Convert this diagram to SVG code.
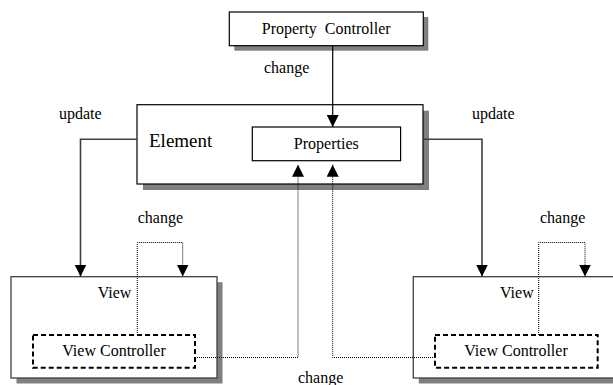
<svg xmlns="http://www.w3.org/2000/svg" width="613" height="385" viewBox="0 0 613 385">
<style>
text{font-family:"Liberation Serif","Times New Roman",serif;font-size:16px;fill:#000}
.box{fill:#fff;stroke:#000;stroke-width:1.2}
.view{fill:#fff;stroke:#404040;stroke-width:1.3}
.shadow{fill:#808080}
.dash{fill:#fff;stroke:#000;stroke-width:2;stroke-dasharray:5,3}
.solid{fill:none;stroke:#404040;stroke-width:1.6}
.top{fill:none;stroke:#000;stroke-width:1.2}
.dot{fill:none;stroke:#000;stroke-width:1;stroke-dasharray:1,1}
</style>
<defs>
<marker id="ah" viewBox="0 0 12 12" refX="12" refY="6" markerWidth="12" markerHeight="12" markerUnits="userSpaceOnUse" orient="auto">
<path d="M0,0 L12,6 L0,12 z" fill="#000"/>
</marker>
</defs>
<g id="property-controller">
<rect class="shadow" x="234.3" y="17" width="194" height="33.7"/>
<rect class="box" x="229.3" y="12" width="194" height="33.7"/>
<text x="326.2" y="34" text-anchor="middle" xml:space="preserve">Property  Controller</text>
</g>
<g id="element">
<rect class="shadow" x="143" y="110.7" width="286" height="79.3"/>
<rect class="box" x="137" y="104.7" width="286" height="79.3"/>
<text x="149" y="147.3" style="font-size:19px">Element</text>
</g>
<g id="properties">
<rect class="box" x="252.3" y="127" width="148.3" height="33.7"/>
<text x="326.3" y="149.3" text-anchor="middle">Properties</text>
</g>
<g id="view-left">
<rect class="shadow" x="16.5" y="282.2" width="206" height="101.3"/>
<rect class="view" x="11" y="276.7" width="206" height="101.3"/>
<text x="97.7" y="297.5">View</text>
</g>
<g id="view-controller-left">
<rect class="dash" x="33" y="335" width="162" height="32.7"/>
<text x="114" y="356" text-anchor="middle">View Controller</text>
</g>
<g id="view-right">
<rect class="shadow" x="418.8" y="282.2" width="250" height="101.3"/>
<rect class="view" x="413.3" y="276.7" width="250" height="101.3"/>
<text x="500" y="297.5">View</text>
</g>
<g id="view-controller-right">
<rect class="dash" x="435" y="335" width="162.7" height="32.7"/>
<text x="516" y="356" text-anchor="middle">View Controller</text>
</g>
<g id="connectors">
<path class="top" d="M332.7,45.7 V127" marker-end="url(#ah)"/>
<path class="solid" d="M137,139.3 H80.5 V276.5" marker-end="url(#ah)"/>
<path class="solid" d="M423,139.3 H482 V276.5" marker-end="url(#ah)"/>
<path class="dot" d="M137.3,335 V242.5 H182.7 V276.5" marker-end="url(#ah)"/>
<path class="dot" d="M538.7,335 V242.5 H585 V276.5" marker-end="url(#ah)"/>
<path class="dot" d="M195,357.5 H298 V164.7" marker-end="url(#ah)"/>
<path class="dot" d="M435,357.5 H332.7 V164.7" marker-end="url(#ah)"/>
</g>
<g id="labels">
<text x="264" y="73">change</text>
<text x="59" y="119">update</text>
<text x="472" y="119">update</text>
<text x="137.7" y="222.5">change</text>
<text x="540" y="222.5">change</text>
<text x="298" y="382.5">change</text>
</g>
</svg>
